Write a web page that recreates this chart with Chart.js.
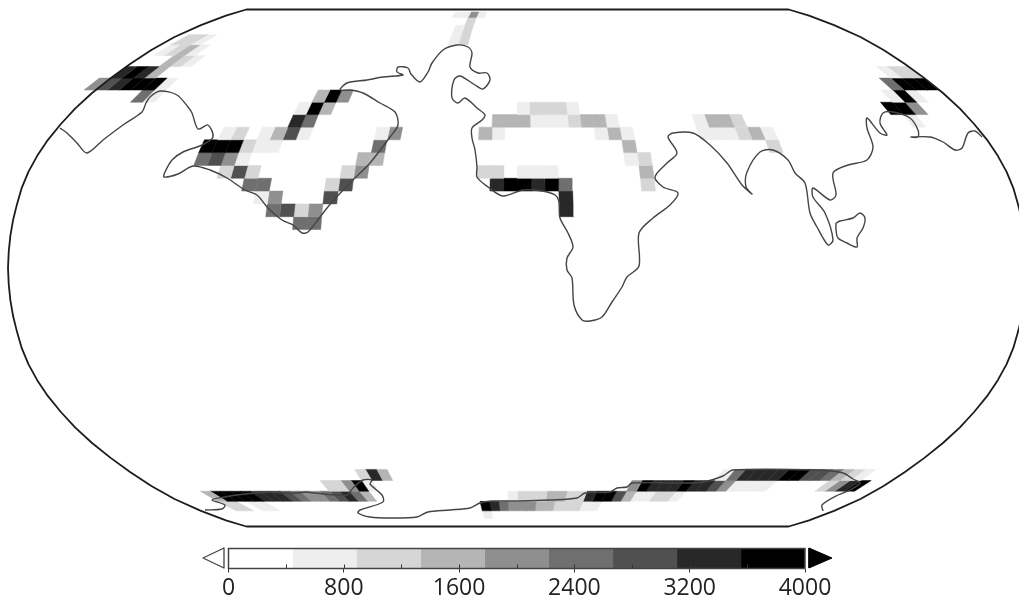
<!DOCTYPE html>
<html>
<head>
<meta charset="utf-8">
<style>
  html, body { margin: 0; padding: 0; background: #fff; overflow: hidden; }
  #mapChart { position: absolute; left: 0; top: 0; }
  #barChart { position: absolute; left: 0; top: 540px; }
</style>
<script src="https://cdn.jsdelivr.net/npm/chart.js@4/dist/chart.umd.min.js"></script>
</head>
<body>
<canvas id="mapChart" width="1019" height="600"></canvas>
<canvas id="barChart" width="1019" height="60"></canvas>
<script>
// colour levels, lightest to darkest (level 0 is white and not drawn)
const levelColors = ["#ffffff", "#eeeeee", "#d6d6d6", "#b5b5b5", "#8f8f8f", "#6f6f6f", "#505050", "#282828", "#000000"];
const barTicks = [0, 800, 1600, 2400, 3200, 4000];

// grid cells as [column, row, level]: column = 5 deg of longitude, row = 4 deg of latitude
const northCells = [
  [-8,21,1],[-7,21,1],[-6,21,4],[-5,21,1],[-6,20,2],[-7,19,1],[-6,19,2],[-7,18,1],[-6,18,2],
  [-35,18,2],[-34,18,2],[-33,18,1],[-35,17,1],[-34,17,2],[-33,17,3],[-32,17,1],[-33,16,3],[-32,16,2],[-31,16,1],
  [-36,15,7],[-35,15,8],[-34,15,7],[-33,15,3],[33,15,1],[34,15,2],[35,15,2],
  [-37,14,4],[-36,14,6],[-35,14,7],[-34,14,8],[-33,14,8],[-32,14,8],[-31,14,1],[32,14,5],[33,14,8],[34,14,8],[35,14,8],
  [-32,13,5],[-31,13,1],[-17,13,3],[-16,13,8],[-15,13,4],[31,13,1],[32,13,8],[33,13,1],
  [-18,12,1],[-17,12,8],[-16,12,3],[0,12,1],[1,12,2],[2,12,2],[3,12,2],[4,12,1],[30,12,8],[31,12,8],[32,12,4],
  [-18,11,7],[-17,11,5],[-2,11,3],[-1,11,3],[0,11,3],[1,11,1],[2,11,1],[3,11,1],[4,11,2],[5,11,3],[6,11,3],[7,11,1],
  [14,11,1],[15,11,3],[16,11,3],[17,11,2],[31,11,1],
  [-23,10,1],[-22,10,2],[-20,10,1],[-19,10,3],[-18,10,6],[-17,10,1],[-11,10,1],[-10,10,4],[-3,10,3],[-2,10,1],
  [6,10,1],[7,10,3],[8,10,1],[14,10,1],[15,10,1],[16,10,1],[17,10,2],[18,10,3],[19,10,1],
  [-24,9,8],[-23,9,8],[-22,9,8],[-21,9,2],[-20,9,1],[-19,9,1],[-11,9,5],[8,9,3],[19,9,2],
  [-24,8,5],[-23,8,6],[-22,8,4],[-21,8,1],[-12,8,3],[-11,8,3],[8,8,1],[9,8,2],
  [-22,7,2],[-21,7,6],[-20,7,2],[-13,7,2],[-12,7,4],[-3,7,2],[-2,7,2],[0,7,1],[1,7,1],[2,7,1],[9,7,3],
  [-20,6,5],[-19,6,5],[-14,6,2],[-13,6,6],[-2,6,7],[-1,6,8],[0,6,8],[1,6,7],[2,6,8],[3,6,5],[9,6,2],
  [-19,5,1],[-18,5,4],[-14,5,6],[3,5,7],
  [-18,4,5],[-17,4,6],[-16,4,2],[-15,4,4],[3,4,7],
  [-16,3,5],[-15,3,5]
];
const southCells = [
  [-15,-17,2],[-14,-17,7],[-13,-17,3],[19,-17,1],[20,-17,5],[21,-17,7],[22,-17,7],[23,-17,7],[24,-17,7],[25,-17,8],[26,-17,8],
  [27,-17,6],[28,-17,6],[29,-17,5],[30,-17,3],[31,-17,2],[32,-17,1],
  [-19,-18,2],[-18,-18,2],[-17,-18,4],[-16,-18,8],[-15,-18,1],[11,-18,4],[12,-18,8],[13,-18,7],[14,-18,7],[15,-18,7],[16,-18,8],
  [17,-18,7],[18,-18,7],[19,-18,6],[20,-18,4],[21,-18,1],[22,-18,1],[23,-18,1],[24,-18,1],[30,-18,2],[31,-18,4],[32,-18,7],[33,-18,8],
  [-32,-19,3],[-31,-19,8],[-30,-19,8],[-29,-19,8],[-28,-19,8],[-27,-19,7],[-26,-19,7],[-25,-19,7],[-24,-19,6],
  [-23,-19,5],[-22,-19,4],[-21,-19,4],[-20,-19,5],[-19,-19,6],[-18,-19,7],[-17,-19,5],[-16,-19,3],
  [-1,-19,1],[0,-19,2],[1,-19,2],[2,-19,2],[3,-19,3],[4,-19,3],[5,-19,2],[6,-19,2],[7,-19,7],[8,-19,8],[9,-19,8],[10,-19,6],
  [11,-19,3],[12,-19,1],[13,-19,1],[14,-19,2],[15,-19,2],[16,-19,1],
  [-32,-20,2],[-31,-20,2],[-29,-20,1],[-28,-20,1],[-4,-20,8],[-3,-20,7],[-2,-20,5],[-1,-20,4],[0,-20,4],[1,-20,4],[2,-20,3],[3,-20,3],
  [4,-20,2],[5,-20,2],[6,-20,2],[7,-20,1],[8,-20,1],[-4,-21,1]
];

// coastlines, in map units
const coastMain = [
  [60,128],[67,133],[77,143],[87,153],[103,140],[123,125],[142,112],[146,103],[150,97],[160,91],[177,95],[188,107],[192,113],[198,129],
  [208,125],[213,137],[202,145],[183,152],[172,160],[165,172],[164,177],[178,174],[193,166],[210,170],[227,178],[245,190],[257,195],
  [268,208],[282,220],[293,225],[302,233],[308,232],[320,217],[332,202],[353,180],[370,163],[390,137],[398,125],[395,112],[380,103],
  [363,93],[350,90],[340,90],[347,83],[367,80],[383,77],[403,75],[397,72],[398,67],[408,68],[411,74],[420,82],[428,72],[432,63],
  [443,50],[457,45],[468,47],[472,53],[470,67],[478,73],[487,73],[490,80],[483,89],[475,85],[460,76],[454,80],[452,98],[458,103],
  [465,98],[477,108],[485,115],[482,120],[472,128],[472,138],[475,150],[477,167],[477,177],[488,187],[503,196],[523,190],[542,191],
  [555,195],[559,202],[560,218],[568,233],[573,247],[567,258],[567,270],[572,278],[574,305],[582,320],[590,321],[602,317],[612,302],
  [622,287],[627,277],[639,266],[639,233],[653,218],[670,205],[678,193],[663,187],[655,177],[667,163],[677,153],[668,137],[673,133],
  [693,133],[710,145],[727,163],[742,185],[752,194],[746,187],[747,172],[760,152],[773,150],[788,160],[795,173],[805,183],[810,213],
  [817,227],[828,245],[833,240],[825,213],[813,197],[813,188],[830,200],[836,195],[833,173],[848,165],[867,160],[873,147],[867,128],
  [867,118],[880,133],[887,135],[880,123],[883,113],[893,112],[910,118],[918,130],[918,137],[911,137],[930,137],[943,142],[955,150],
  [962,148],[968,133],[975,131],[982,137]
];
const coastAustralia = [
  [836,223],[840,221],[853,218],[860,213],[865,218],[863,228],[857,238],[857,247],[847,243],[838,238],[836,230],[836,223]
];
const coastAntarctica = [
  [205,510],[222,509],[225,505],[212,500],[225,497],[237,495],[270,492],[280,493],[297,493],[305,492],[323,494],[347,495],[353,488],
  [363,480],[372,480],[370,484],[382,495],[383,502],[360,510],[358,513],[370,517],[390,518],[417,517],[428,512],[450,510],[470,508],
  [480,503],[492,501],[520,501],[550,500],[577,498],[585,493],[610,492],[617,488],[627,487],[632,483],[683,483],[703,482],[723,476],
  [733,470],[817,470],[843,473],[853,479],[860,483],[850,490],[838,495],[822,505],[823,511]
];

// Robinson projection table, every 5 degrees
const robLen = [1,0.9986,0.9954,0.99,0.9822,0.973,0.96,0.9427,0.9216,0.8962,0.8679,0.835,0.7986,0.7597,0.7186,0.6732,0.6213,0.5722,0.5322];
const robDfe = [0,0.062,0.124,0.186,0.248,0.31,0.372,0.434,0.4958,0.5571,0.6176,0.6769,0.7346,0.7903,0.8435,0.8936,0.9394,0.9761,1];

function lookup(table, lat){
  const p = Math.abs(lat) / 5;
  const i = Math.min(Math.floor(p), table.length - 2);
  return table[i] + (table[i+1] - table[i]) * (p - i);
}
function project(lon, lat){
  return {
    x: 517.5 + lon / 180 * lookup(robLen, lat) * 509.5,
    y: 268 - Math.sign(lat) * lookup(robDfe, lat) * 258.5
  };
}
function toPoints(list){
  return list.map(p => ({ x: p[0], y: p[1] }));
}

function cellDataset(cell){
  const lon = cell[0] * 5, lat = cell[1] * 4;
  const color = levelColors[cell[2]];
  return {
    data: [project(lon,lat), project(lon+5,lat), project(lon+5,lat+4), project(lon,lat+4), project(lon,lat)],
    borderColor: color, backgroundColor: color, borderWidth: 0.5, fill: "shape", order: 3
  };
}

function outlinePoints(){
  const pts = [];
  for(let lat=-90; lat<=90; lat+=5) pts.push(project(-180, lat));
  for(let lat=90; lat>=-90; lat-=5) pts.push(project(180, lat));
  pts.push(project(-180, -90));
  return pts;
}

const coastStyle = { borderColor: "#444444", borderWidth: 1.4, fill: false, tension: 0.3, order: 1 };

new Chart(document.getElementById("mapChart"), {
  type: "scatter",
  data: {
    datasets: [
      ...northCells.concat(southCells).map(cellDataset),
      { data: toPoints(coastMain), ...coastStyle },
      { data: toPoints(coastAustralia), ...coastStyle },
      { data: toPoints(coastAntarctica), ...coastStyle },
      { data: outlinePoints(), borderColor: "#1c1c1c", borderWidth: 1.8, fill: false, order: 0 },
      // arrows at the ends of the colour bar
      { data: toPoints([[224,548],[224,568],[203,558],[224,548]]), borderColor: "#444", backgroundColor: "#fff", borderWidth: 1.3, fill: "shape", order: 0 },
      { data: toPoints([[809,548],[809,568],[832,558],[809,548]]), borderColor: "#000", backgroundColor: "#000", borderWidth: 1, fill: "shape", order: 0 }
    ]
  },
  options: {
    responsive: false,
    animation: false,
    showLine: true,
    elements: { point: { radius: 0 }, line: { tension: 0, borderJoinStyle: "round" } },
    layout: { padding: 0 },
    plugins: { legend: { display: false }, tooltip: { enabled: false } },
    scales: {
      x: { type: "linear", display: false, min: 0, max: 1019 },
      y: { type: "linear", display: false, min: 0, max: 600, reverse: true }
    }
  }
});

// colour bar: one stacked bar per level, with the inner ticks and frame added after the bars
const barFrame = {
  id: "barFrame",
  afterDatasetsDraw(chart){
    const { ctx, chartArea: a, scales: { x } } = chart;
    ctx.save();
    ctx.strokeStyle = "#333";
    ctx.lineWidth = 1;
    for(let v=400; v<4000; v+=400){
      const px = Math.round(x.getPixelForValue(v)) + 0.5;
      ctx.beginPath();
      ctx.moveTo(px, a.bottom);
      ctx.lineTo(px, a.bottom - 4);
      ctx.stroke();
    }
    ctx.lineWidth = 1.5;
    ctx.strokeStyle = "#444";
    ctx.strokeRect(a.left, a.top, a.right - a.left, a.bottom - a.top);
    ctx.restore();
  }
};

new Chart(document.getElementById("barChart"), {
  type: "bar",
  data: {
    labels: [""],
    datasets: levelColors.map(c => ({ data: [4000 / levelColors.length], backgroundColor: c, barPercentage: 1, categoryPercentage: 1 }))
  },
  options: {
    indexAxis: "y",
    responsive: false,
    animation: false,
    layout: { padding: { left: 228.5, right: 214, top: 8.5, bottom: 0 } },
    plugins: { legend: { display: false }, tooltip: { enabled: false } },
    scales: {
      y: { stacked: true, display: false },
      x: {
        stacked: true, min: 0, max: 4000,
        afterFit(scale){ scale.height = 31.5; },
        border: { display: false },
        grid: {
          drawOnChartArea: false, tickLength: 4,
          tickColor: c => barTicks.includes(c.tick.value) ? "#333" : "rgba(0,0,0,0)"
        },
        ticks: {
          stepSize: 400, autoSkip: false, maxRotation: 0, padding: 2, color: "#222",
          font: { family: "Open Sans", size: 23 },
          callback: v => barTicks.includes(v) ? String(v) : ""
        }
      }
    }
  },
  plugins: [barFrame]
});
</script>
</body>
</html>
